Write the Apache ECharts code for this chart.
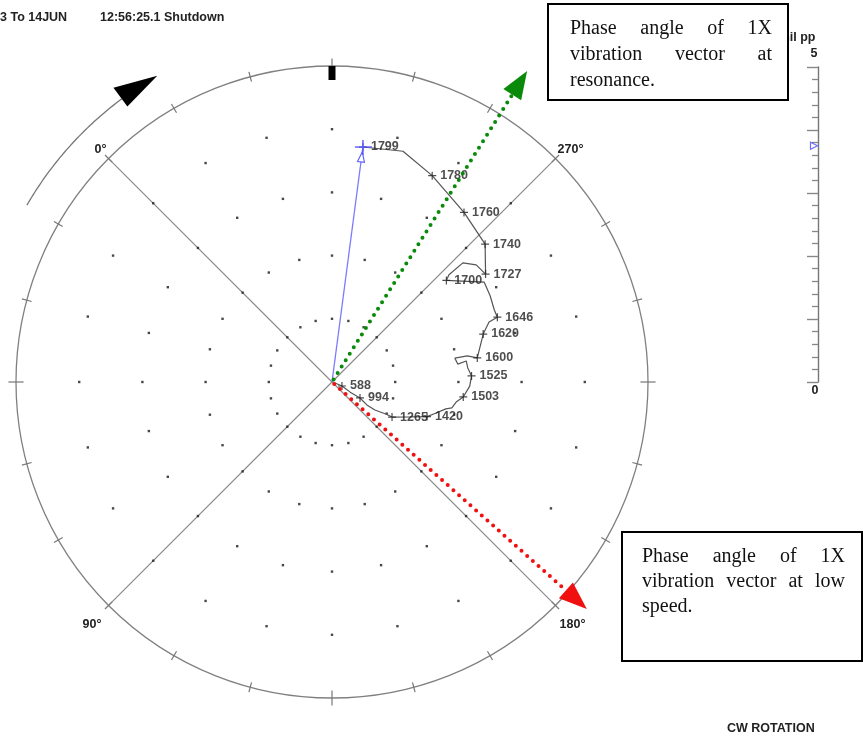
<!DOCTYPE html>
<html>
<head>
<meta charset="utf-8">
<script src="https://cdn.jsdelivr.net/npm/echarts@6/dist/echarts.min.js"></script>
<style>
  html, body { margin: 0; padding: 0; background: #fff; }
  #chart { width: 863px; height: 740px; }
</style>
</head>
<body>
<div id="chart"></div>
<script>
// ---- Shutdown (coast-down) 1X vector data -----------------------------------
// speed tag (rpm, blank = intermediate sample), amplitude (mil pp), phase lag (deg)
const speedTags = ['1799', '', '1780', '1760', '1740', '1727', '', '', '', '1700',
                   '', '', '', '1646', '', '1620', '1600', '', '', '',
                   '', '', '1525', '', '1503', '', '', '', '', '1420',
                   '', '1265', '', '', '', '994', '', '588', ''];
const amplitudeMil = [3.75, 3.82, 3.63, 3.40, 3.26, 2.97, 2.94, 2.80, 2.51, 2.42,
                      2.88, 2.85, 2.81, 2.81, 2.66, 2.51, 2.33, 2.18, 1.98, 2.01,
                      2.15, 2.16, 2.21, 2.18, 2.09, 1.99, 1.94, 1.85, 1.72, 1.60,
                      1.35, 1.10, 0.99, 0.81, 0.66, 0.51, 0.33, 0.17, 0.05];
const phaseDeg = [307.5, 297.9, 289.1, 277.1, 267.0, 260.1, 264.1, 267.3, 267.5, 266.6,
                  258.3, 253.6, 249.0, 246.4, 245.9, 242.6, 234.4, 235.9, 236.0, 233.1,
                  233.9, 230.9, 227.5, 223.3, 218.5, 215.8, 212.8, 211.7, 208.4, 205.0,
                  200.8, 194.7, 194.3, 191.9, 191.7, 195.3, 195.9, 203.2, 207.0];

// ---- Polar reference grid ---------------------------------------------------
const ringRadii = [1, 2, 3, 4];
const ringAngles = [0, 15, 30, 45, 60, 75, 90, 105, 120, 135, 150, 165,
                    180, 195, 210, 225, 240, 255, 270, 285, 300, 315, 330, 345];
const rimTickAngles = ringAngles;
const cardinalAngles = [45, 135, 225, 315];
const probeAngle = 315;
const scaleMax = 5;

// ---- Annotated phase vectors ------------------------------------------------
const annotationPhase = [282.9, 183.3];      // resonance, low speed
const annotationLength = [5.81, 5.40];       // mil pp (arrow tip)
const annotationColor = ['#0a8a0a', '#f01010'];
const annotationText = [
  ['Phase angle of 1X', 'vibration vector at', 'resonance.'],
  ['Phase angle of 1X', 'vibration vector at low', 'speed.']
];

// ---- Layout -----------------------------------------------------------------
const SANS = '"Liberation Sans", Arial, sans-serif';
const SERIF = '"Liberation Serif", "Times New Roman", serif';
const CENTER = [332, 382];
const RADIUS = 316;
const rotationArrow = { radius: 5.58, from: 14.9, to: -8.4, tip: -15.3, headInner: 5.43, headOuter: 5.80 };

const chart = echarts.init(document.getElementById('chart'), null, { renderer: 'canvas' });

const gridDots = [];
ringRadii.forEach(r => ringAngles.forEach(a => gridDots.push([r, a])));
const curveData = amplitudeMil.map((r, i) => [r, phaseDeg[i]]);
const taggedPoints = speedTags
  .map((t, i) => (t ? { name: t, value: [amplitudeMil[i], phaseDeg[i]] } : null))
  .filter(Boolean);

function seg(p, q, style) {
  return { type: 'line', shape: { x1: p[0], y1: p[1], x2: q[0], y2: q[1] }, style };
}

// justified paragraph built word by word
const measureCtx = document.createElement('canvas').getContext('2d');
function paragraph(lines, left, right, firstY, gap, size) {
  measureCtx.font = size + 'px ' + SERIF;
  const spaceW = measureCtx.measureText(' ').width;
  const out = [];
  lines.forEach((line, i) => {
    const y = firstY + i * gap;
    const words = line.split(' ');
    const widths = words.map(w => measureCtx.measureText(w).width);
    const total = widths.reduce((s, w) => s + w, 0);
    const last = i === lines.length - 1;
    const g = (last || words.length < 2) ? spaceW : (right - left - total) / (words.length - 1);
    let x = left;
    words.forEach((w, k) => {
      out.push({
        type: 'text', x, y, z: 110,
        style: { text: w, fontSize: size, fontFamily: SERIF, fill: '#111', align: 'left', verticalAlign: 'middle' }
      });
      x += widths[k] + g;
    });
  });
  return out;
}

const option = {
  animation: false,
  backgroundColor: '#fff',
  polar: { center: CENTER, radius: RADIUS },
  angleAxis: {
    type: 'value', min: 0, max: 360, interval: 90,
    startAngle: 135, clockwise: false,
    axisLine: { lineStyle: { color: '#808080', width: 1.3 } },
    axisTick: { show: false },
    splitLine: { show: true, lineStyle: { color: '#8a8a8a', width: 1.2 } },
    axisLabel: {
      margin: 3,
      color: '#222', fontSize: 12.5, fontWeight: 'bold', fontFamily: SANS,
      formatter: v => v === 360 ? '' : (v === 90 ? '{sw|' + v + '°}' : v === 180 ? '{se|' + v + '°}' : v + '°'),
      rich: {
        sw: { padding: [10, 5, 0, 0], color: '#222', fontSize: 12.5, fontWeight: 'bold', fontFamily: SANS },
        se: { padding: [10, 0, 0, 2], color: '#222', fontSize: 12.5, fontWeight: 'bold', fontFamily: SANS }
      }
    }
  },
  radiusAxis: {
    type: 'value', min: 0, max: scaleMax,
    axisLine: { show: false }, axisTick: { show: false },
    axisLabel: { show: false }, splitLine: { show: false }
  },
  grid: { left: 818, top: 67, width: 10, height: 315 },
  xAxis: { type: 'value', min: 0, max: 1, show: false },
  yAxis: {
    type: 'value', min: 0, max: scaleMax, interval: 1, position: 'left',
    axisLine: { show: true, lineStyle: { color: '#777', width: 1.4 } },
    axisTick: { show: true, length: 11, lineStyle: { color: '#888', width: 1.4 } },
    minorTick: { show: true, splitNumber: 5, length: 6, lineStyle: { color: '#888', width: 1.3 } },
    splitLine: { show: false },
    axisLabel: { show: false }
  },
  series: [
    { // dotted amplitude rings
      type: 'scatter', coordinateSystem: 'polar', silent: true, z: 1,
      symbol: 'rect', symbolSize: 2.4, itemStyle: { color: '#1a1a1a' },
      data: gridDots
    },
    { // rim ticks
      type: 'custom', coordinateSystem: 'polar', silent: true, z: 2,
      data: rimTickAngles.map(a => [scaleMax, a]),
      renderItem(params, api) {
        const a = api.value(1);
        const d = cardinalAngles.indexOf(a) >= 0 ? 0.12 : 0.08;
        return seg(api.coord([scaleMax - d, a]), api.coord([scaleMax + d, a]),
                   { stroke: '#777', lineWidth: 1.2 });
      }
    },
    { // probe location marker
      type: 'custom', coordinateSystem: 'polar', silent: true, z: 3,
      data: [[scaleMax, probeAngle]],
      renderItem(params, api) {
        const p = api.coord([api.value(0), api.value(1)]);
        return { type: 'rect', shape: { x: p[0] - 3.5, y: p[1], width: 7, height: 14 }, style: { fill: '#000' } };
      }
    },
    { // rotation direction arrow
      type: 'custom', coordinateSystem: 'polar', silent: true, z: 3,
      data: [[rotationArrow.radius, rotationArrow.from]],
      renderItem(params, api) {
        const pts = [];
        for (let a = rotationArrow.from; a > rotationArrow.to; a -= 0.5) pts.push(api.coord([rotationArrow.radius, a]));
        pts.push(api.coord([rotationArrow.radius, rotationArrow.to]));
        return {
          type: 'group',
          children: [
            { type: 'polyline', shape: { points: pts }, style: { stroke: '#777', lineWidth: 1.3, fill: null } },
            { type: 'polygon', shape: { points: [
                api.coord([rotationArrow.radius, rotationArrow.tip]),
                api.coord([rotationArrow.headOuter, rotationArrow.to]),
                api.coord([rotationArrow.headInner, rotationArrow.to])
              ] }, style: { fill: '#000' } }
          ]
        };
      }
    },
    { // coast-down vector path
      type: 'line', coordinateSystem: 'polar', silent: true, z: 4,
      showSymbol: false, symbol: 'none',
      lineStyle: { color: '#555', width: 1.2 },
      data: curveData
    },
    { // tagged speeds
      type: 'scatter', coordinateSystem: 'polar', silent: true, z: 5,
      symbol: 'path://M0,3.4H8V4.6H0ZM3.4,0H4.6V8H3.4Z', symbolSize: 8,
      itemStyle: { color: '#222' },
      label: {
        show: true, position: 'right', distance: 4, formatter: '{b}',
        color: '#222', fontSize: 12.5, fontWeight: 'bold', fontFamily: SANS
      },
      data: taggedPoints
    },
    { // current 1X vector with cursor
      type: 'custom', coordinateSystem: 'polar', silent: true, z: 6,
      data: [[amplitudeMil[0], phaseDeg[0]]],
      renderItem(params, api) {
        const c = api.coord([0, api.value(1)]);
        const t = api.coord([api.value(0), api.value(1)]);
        const L = Math.hypot(t[0] - c[0], t[1] - c[1]);
        const u = [(t[0] - c[0]) / L, (t[1] - c[1]) / L];
        const n = [-u[1], u[0]];
        const apex = [t[0] - 5 * u[0], t[1] - 5 * u[1]];
        const base = [t[0] - 15 * u[0], t[1] - 15 * u[1]];
        const blue = '#5a5aff';
        return {
          type: 'group',
          children: [
            seg(c, t, { stroke: '#7a7aff', lineWidth: 1.3 }),
            { type: 'polygon', shape: { points: [apex, [base[0] + 3.5 * n[0], base[1] + 3.5 * n[1]], [base[0] - 3.5 * n[0], base[1] - 3.5 * n[1]]] },
              style: { fill: '#fff', stroke: blue, lineWidth: 1.1 } },
            seg([t[0] - 8, t[1]], [t[0] + 9, t[1]], { stroke: blue, lineWidth: 1.4 }),
            seg([t[0], t[1] - 7], [t[0], t[1] + 8], { stroke: blue, lineWidth: 1.4 })
          ]
        };
      }
    },
    { // annotated phase directions
      type: 'custom', coordinateSystem: 'polar', silent: true, z: 8,
      data: annotationPhase.map((p, i) => [annotationLength[i], p, i]),
      renderItem(params, api) {
        const idx = api.value(2);
        const c = api.coord([0, api.value(1)]);
        const t = api.coord([api.value(0), api.value(1)]);
        const L = Math.hypot(t[0] - c[0], t[1] - c[1]);
        const u = [(t[0] - c[0]) / L, (t[1] - c[1]) / L];
        const n = [-u[1], u[0]];
        const headLen = 28, half = 10.5;
        const base = [t[0] - headLen * u[0], t[1] - headLen * u[1]];
        const col = annotationColor[idx];
        return {
          type: 'group',
          children: [
            { type: 'line', shape: { x1: c[0] + 3 * u[0], y1: c[1] + 3 * u[1], x2: base[0], y2: base[1] },
              style: { stroke: col, lineWidth: 4, lineCap: 'round', lineDash: [0, 7.6] } },
            { type: 'polygon', shape: { points: [t, [base[0] + half * n[0], base[1] + half * n[1]], [base[0] - half * n[0], base[1] - half * n[1]]] },
              style: { fill: col } }
          ]
        };
      }
    },
    { // live amplitude pointer on the scale
      type: 'scatter', silent: true, z: 6,
      symbol: 'triangle', symbolRotate: -90, symbolSize: [7, 7], symbolOffset: [-4, 0],
      itemStyle: { color: '#fff', borderColor: '#4a4aff', borderWidth: 1.2 },
      data: [[0, amplitudeMil[0]]]
    }
  ]
};

chart.setOption(option);

// scale end labels, header and annotation boxes
const yTop = chart.convertToPixel({ yAxisIndex: 0 }, scaleMax);
const yBot = chart.convertToPixel({ yAxisIndex: 0 }, 0);
const sansText = (text, x, y, align, extra) => ({
  type: 'text', x, y, z: 50,
  style: Object.assign({ text, fontSize: 12.5, fontWeight: 'bold', fontFamily: SANS, fill: '#222', align, verticalAlign: 'middle' }, extra || {})
});

const graphics = [
  sansText('3 To 14JUN', 0, 18, 'left'),
  sansText('12:56:25.1 Shutdown', 100, 18, 'left'),
  sansText('mil pp', 815.5, 38, 'right'),
  sansText(String(scaleMax), 814, yTop - 13.5, 'center'),
  sansText('0', 815, yBot + 8.5, 'center'),
  sansText('CW ROTATION', 727, 729, 'left'),
  { type: 'rect', z: 100, shape: { x: 548, y: 4, width: 240, height: 96 },
    style: { fill: '#fff', stroke: '#000', lineWidth: 2 } },
  { type: 'rect', z: 100, shape: { x: 622, y: 532, width: 240, height: 129 },
    style: { fill: '#fff', stroke: '#000', lineWidth: 2 } }
].concat(
  paragraph(annotationText[0], 570, 772, 28.5, 26, 20),
  paragraph(annotationText[1], 642, 845, 556.5, 25, 20)
);

chart.setOption({ graphic: graphics });
</script>
</body>
</html>
